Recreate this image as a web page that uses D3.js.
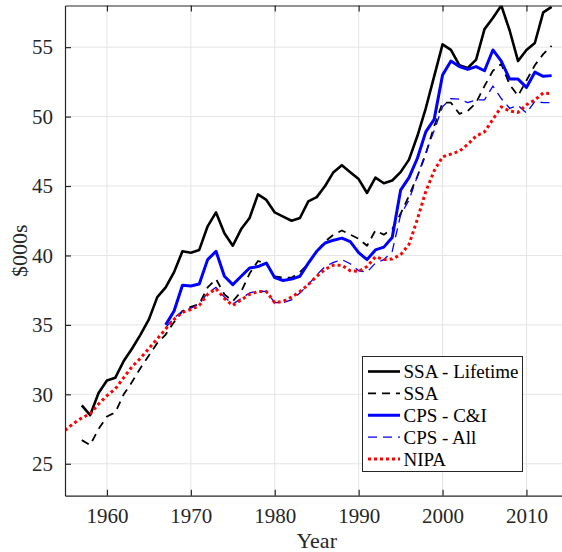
<!DOCTYPE html>
<html lang="en">
<head>
<meta charset="utf-8">
<title>earnings</title>
<script src="https://cdn.jsdelivr.net/npm/d3@7"></script>
<style>
  body { margin: 0; background: #fff; }
  svg { display: block; }
  svg text { font-family: 'Liberation Serif', 'Times New Roman', Times, serif; }
</style>
</head>
<body>
<svg id="chart" width="562" height="552"></svg>
<script>
// values, $000s by year
const ssaLifeStart = 1957
const ssaLife = [29.2, 28.5, 30.1, 31.0, 31.2, 32.4, 33.3, 34.3, 35.4, 37.0,
  37.7, 38.8, 40.3, 40.2, 40.4, 42.1, 43.1, 41.6, 40.7, 41.9,
  42.7, 44.4, 44.0, 43.1, 42.8, 42.5, 42.7, 43.9, 44.2, 45.0,
  46.0, 46.5, 46.0, 45.5, 44.5, 45.6, 45.2, 45.4, 46.0, 46.9,
  48.6, 50.6, 52.9, 55.2, 54.8, 53.7, 53.5, 54.1, 56.3, 57.1,
  58.0, 56.2, 54.0, 54.8, 55.3, 57.5, 57.9]

const ssaStart = 1957
const ssa = [26.7, 26.35, 27.5, 28.4, 28.7, 30.0, 30.9, 31.9, 32.8, 33.7,
  34.3, 35.2, 36.0, 36.3, 36.5, 37.7, 38.3, 37.2, 36.7, 37.4,
  38.7, 39.6, 39.4, 38.5, 38.4, 38.4, 38.8, 39.4, 40.3, 41.0,
  41.5, 41.8, 41.5, 41.2, 40.7, 41.8, 41.5, 41.9, 43.0, 44.3,
  45.7, 47.3, 49.3, 51.0, 51.0, 50.2, 50.4, 51.0, 52.2, 53.3,
  53.8, 52.3, 51.5, 52.6, 53.7, 54.5, 55.1]

const cpsCIStart = 1967
const cpsCI = [35.0, 36.0, 37.85, 37.8, 37.95, 39.7, 40.3, 38.5, 37.9, 38.5,
  39.1, 39.2, 39.45, 38.4, 38.2, 38.3, 38.5, 39.45, 40.3, 40.9,
  41.1, 41.25, 41.0, 40.2, 39.7, 40.4, 40.6, 41.3, 44.7, 45.6,
  47.0, 48.9, 49.8, 53.0, 54.0, 53.6, 53.4, 53.6, 53.3, 54.8,
  54.0, 52.7, 52.7, 52.1, 53.2, 52.9, 52.95]

const cpsAllStart = 1967
const cpsAll = [34.8, 35.5, 36.0, 36.2, 36.5, 37.3, 37.7, 37.0, 36.5, 36.9,
  37.3, 37.45, 37.4, 36.6, 36.6, 36.8, 37.3, 37.9, 38.6, 39.2,
  39.5, 39.7, 39.4, 38.9, 38.8, 39.45, 39.7, 40.3, 42.9, 44.0,
  45.7, 47.4, 49.0, 50.7, 51.3, 51.25, 51.0, 51.2, 51.2, 52.2,
  51.3, 50.6, 50.8, 50.25, 51.1, 51.0, 51.0]

const nipaStart = 1955
const nipa = [27.4, 27.9, 28.3, 28.6, 29.3, 29.9, 30.4, 31.2, 32.0, 32.6,
  33.3, 34.0, 34.7, 35.4, 35.9, 36.1, 36.4, 37.2, 37.6, 36.9,
  36.4, 36.8, 37.2, 37.4, 37.4, 36.6, 36.7, 37.0, 37.4, 37.9,
  38.5, 39.0, 39.3, 39.3, 38.9, 38.85, 39.2, 39.9, 39.7, 39.75,
  40.05, 40.8, 42.6, 44.6, 46.1, 47.1, 47.3, 47.5, 48.0, 48.6,
  48.9, 49.8, 50.7, 50.4, 50.3, 50.85, 51.2, 51.7, 51.65]

const xTicks = [1960, 1970, 1980, 1990, 2000, 2010]
const yTicks = [25, 30, 35, 40, 45, 50, 55]
const seriesNames = ["SSA - Lifetime", "SSA", "CPS - C&I", "CPS - All", "NIPA"]

const series = [
  { name: seriesNames[0], start: ssaLifeStart, vals: ssaLife, color: "#000", width: 2.6, dash: null },
  { name: seriesNames[1], start: ssaStart, vals: ssa, color: "#000", width: 1.8, dash: "8,6" },
  { name: seriesNames[2], start: cpsCIStart, vals: cpsCI, color: "#0000ff", width: 3, dash: null },
  { name: seriesNames[3], start: cpsAllStart, vals: cpsAll, color: "#0000ff", width: 1.3, dash: "9,6" },
  { name: seriesNames[4], start: nipaStart, vals: nipa, color: "#ff0000", width: 3, dash: "3,3" }
]

const svg = d3.select("#chart")
const mLeft = 65, mTop = 5.5, mBottom = 495.7, mRight = 568.4

const x = d3.scaleLinear().domain([1955, 2015]).range([mLeft, mRight])
const y = d3.scaleLinear().domain([22.7, 58]).range([mBottom, mTop])
const axisColor = "#262626"

// grid
svg.append("g").selectAll("line").data(xTicks).join("line")
  .attr("x1", d => x(d)).attr("x2", d => x(d))
  .attr("y1", mTop).attr("y2", mBottom)
  .attr("stroke", "#e4e4e4").attr("stroke-width", 1)
svg.append("g").selectAll("line").data(yTicks).join("line")
  .attr("x1", mLeft).attr("x2", mRight)
  .attr("y1", d => y(d)).attr("y2", d => y(d))
  .attr("stroke", "#e4e4e4").attr("stroke-width", 1)

svg.append("clipPath").attr("id", "plotclip")
  .append("rect").attr("x", mLeft).attr("y", mTop)
  .attr("width", mRight - mLeft).attr("height", mBottom - mTop)

const line = d3.line().x(d => x(d[0])).y(d => y(d[1]))

let plot = svg.append("g").attr("clip-path", "url(#plotclip)")
series.forEach(s => {
  const pts = s.vals.map((v, i) => [s.start + i, v])
  plot.append("path")
    .datum(pts)
    .attr("d", line)
    .attr("fill", "none")
    .attr("stroke", s.color)
    .attr("stroke-width", s.width)
    .attr("stroke-dasharray", s.dash)
    .attr("stroke-linejoin", "round")
})

// axes (inward ticks, box on top)
const xAxis = d3.axisBottom(x).tickValues(xTicks).tickFormat(d3.format("d"))
  .tickSizeInner(-6).tickSizeOuter(0).tickPadding(12)
const gx = svg.append("g").attr("transform", `translate(0,${mBottom})`).call(xAxis)
const yAxis = d3.axisLeft(y).tickValues(yTicks).tickSizeInner(-6).tickSizeOuter(0).tickPadding(12)
const gy = svg.append("g").attr("transform", `translate(${mLeft},0)`).call(yAxis)
const gtop = svg.append("g").attr("transform", `translate(0,${mTop})`)
  .call(d3.axisTop(x).tickValues(xTicks).tickSizeInner(-6).tickSizeOuter(0).tickFormat(""))

;[gx, gy, gtop].forEach(g => {
  g.attr("font-family", null).attr("font-size", 21)
  g.select(".domain").attr("stroke", axisColor).attr("stroke-width", 1.2)
  g.selectAll(".tick line").attr("stroke", axisColor).attr("stroke-width", 1.2)
  g.selectAll("text").attr("fill", axisColor)
})

svg.append("text")
  .attr("x", (mLeft + mRight) / 2).attr("y", 548)
  .attr("text-anchor", "middle").attr("fill", axisColor)
  .attr("font-size", 22).text("Year")
svg.append("text")
  .attr("transform", `translate(27,${(mTop + mBottom) / 2}) rotate(-90)`)
  .attr("text-anchor", "middle").attr("fill", axisColor)
  .attr("font-size", 22).text("$000s")

// legend
const legend = svg.append("g")
legend.append("rect")
  .attr("x", 362.5).attr("y", 356.5).attr("width", 160).attr("height", 115)
  .attr("fill", "#fff").attr("stroke", axisColor).attr("stroke-width", 1)
const rowY = d3.scaleLinear().domain([0, 4]).range([371.5, 459])
series.forEach((s, i) => {
  legend.append("line")
    .attr("x1", 368).attr("x2", 400)
    .attr("y1", rowY(i)).attr("y2", rowY(i))
    .attr("stroke", s.color)
    .attr("stroke-width", s.width)
    .attr("stroke-dasharray", s.dash)
  legend.append("text")
    .attr("x", 403.5).attr("y", rowY(i) + 6.5)
    .attr("fill", "#000")
    .attr("font-size", 19)
    .text(s.name)
})
</script>
</body>
</html>
